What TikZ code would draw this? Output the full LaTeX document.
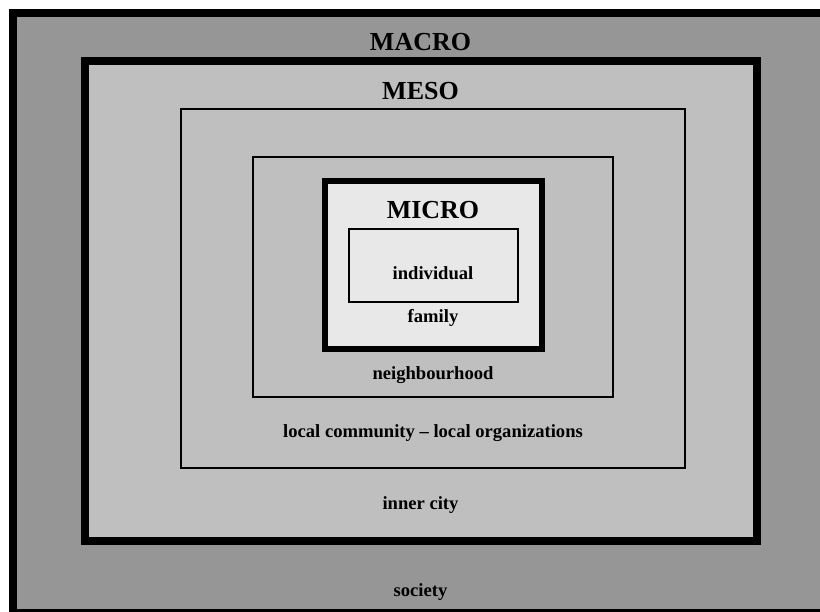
\documentclass[tikz,border=0pt]{standalone}
\usepackage{fontspec}
\setmainfont{Liberation Serif}
\definecolor{macrogray}{gray}{0.59}
\definecolor{mesogray}{gray}{0.75}
\definecolor{microgray}{gray}{0.91}
\tikzset{
	levellabel/.style={font=\fontsize{26}{30}\selectfont\bfseries,anchor=base},
	ringlabel/.style={font=\fontsize{18.6}{22}\selectfont\bfseries,anchor=base}
}
\begin{document}
\begin{tikzpicture}[x=1pt,y=-1pt]
	\useasboundingbox (0,0) rectangle (820,611);
	\fill[white] (0,0) rectangle (820,611);
	\clip (0,0) rectangle (820,611);
	\draw[line width=8pt,fill=macrogray] (13,13) rectangle (828,613);
	\draw[line width=8pt,fill=mesogray] (85,61) rectangle (757,541);
	\draw[line width=2pt,fill=mesogray] (181,109) rectangle (685,468);
	\draw[line width=2pt,fill=mesogray] (253,157) rectangle (613,396.5);
	\draw[line width=6pt,fill=microgray] (325,181) rectangle (541.5,349);
	\draw[line width=2pt,fill=microgray] (349,229) rectangle (518,301.5);
	\node[levellabel] (macro) at (420.5,50.7) {MACRO};
	\node[levellabel] (meso) at (420.5,99) {MESO};
	\node[levellabel] (micro) at (433,218.3) {MICRO};
	\node[ringlabel] (individual) at (433,279.3) {individual};
	\node[ringlabel] (family) at (433,322.7) {family};
	\node[ringlabel] (neighbourhood) at (433,379) {neighbourhood};
	\node[ringlabel] (community) at (433,437.3) {local community -- local organizations};
	\node[ringlabel] (innercity) at (420.5,509.3) {inner city};
	\node[ringlabel] (society) at (420.5,596) {society};
\end{tikzpicture}
\end{document}
